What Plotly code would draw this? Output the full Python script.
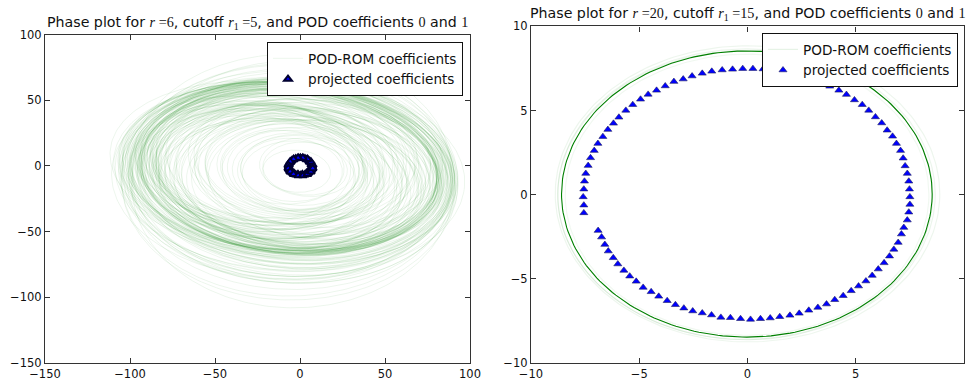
import numpy as np
import plotly.graph_objects as go

# ---------------- data ----------------
# Left panel (r=6): POD-ROM trajectory loops, given as centre, semi-axes and tilt (deg)
left_orbit_cx = [
    # dense band
    -5, -8, -2, -10, -6, -3, -12, -7, -4, -9, -1, -6, -11, -5, -8, -3, -7, -10, -4, -6,
    -9, -2, -13, -5, -8, -6, -3, -11, -7, -4,
    # mid-size loops
    -20, -15, 5, -25, 0, -10, 8, -18, -5, -22, 3, -12, -28, -8, 10, -16, -3, -20, 6, -14,
    -24, 2, -9, -17, -1, -26, 4, -11, -19, 7, -6, -21, -13, -4, -15,
    # inner loops
    -5, 0, -8, 3, -3, -10, 2, -6, -1, -12, 4, -4, -7, 1, -9, -2, 0, -5, -3, -6,
    # outer excursions
    -5, -6, -3, -5, -7, -4, -6, -2, -7, -5,
    # wandering loops with varying tilt
    -15, 0, -30, 5, -20, -8, -12, 2, -25, -4, -18, -6, -10, 3, -22, -14, -2, -16, -9, -27,
    1, -11, -19, -7, -3, -13, -24, -5, -17, 0,
    # wide loops just outside the band
    -6, -9, -3, -11, -5, -8, -2, -10, -4, -7, -12, -1, -6, -9, -3, -8, -5, -10, -2, -7,
    -4, -11, -6, -3, -8]
left_orbit_cy = [
    -3, -1, -5, -2, -4, 0, -3, -6, -2, -1, -4, -5, -2, -3, -6, -1, -4, -2, -5, -3,
    -1, -4, -3, -6, -2, -4, -3, -1, -5, -2,
    5, -10, -8, 2, -12, 6, -5, -3, 8, -8, -14, 3, 0, -6, -10, 7, -12, -4, 2, -9,
    5, -7, 4, -11, -2, -5, -13, 8, -1, -6, -9, 1, -4, 5, -8,
    -3, -5, 0, -2, -6, -1, -4, 2, -7, -3, -1, -5, -2, -6, 1, -4, -3, -1, -5, -2,
    -8, -12, -4, -10, -6, -14, -9, -5, -11, -1,
    0, -12, 4, -8, -6, 3, -15, -4, -2, 6, -10, -1, -7, -11, 1, -5, -9, 4, -13, -3,
    -6, 2, -8, -14, -2, 5, -4, -10, -1, -7,
    -5, -8, -3, -10, -6, -2, -9, -4, -11, -7, -3, -6, -12, -1, -8, -5, -9, -2, -7, -10,
    -4, -6, -3, -8, -5]
left_orbit_a = [
    86, 90, 84, 93, 88, 82, 95, 87, 85, 91, 83, 89, 94, 86, 92, 84, 88, 96, 85, 90,
    93, 81, 97, 87, 89, 88, 84, 92, 86, 90,
    70, 65, 75, 60, 72, 78, 68, 62, 74, 66, 70, 80, 58, 76, 64, 71, 67, 73, 69, 77,
    61, 75, 79, 63, 72, 59, 68, 74, 66, 70, 76, 64, 71, 62, 78,
    30, 40, 48, 25, 52, 36, 45, 55, 33, 50, 28, 42, 58, 38, 47, 20, 35, 44, 53, 41,
    96, 99, 94, 97, 98, 95, 93, 92, 98, 94,
    80, 74, 68, 82, 77, 85, 72, 79, 66, 88, 76, 83, 71, 78, 70, 86, 73, 81, 75, 69,
    84, 67, 80, 76, 87, 74, 72, 82, 78, 85,
    94, 98, 92, 100, 96, 93, 99, 95, 97, 92, 101, 94, 98, 96, 93, 100, 95, 97, 92, 99,
    94, 98, 96, 93, 97]
left_orbit_b = [
    61, 63, 59, 64, 62, 58, 65, 61, 60, 63, 59, 62, 64, 61, 64, 59, 62, 66, 60, 63,
    64, 57, 66, 61, 62, 62, 59, 63, 61, 62,
    50, 46, 52, 44, 50, 54, 47, 45, 52, 47, 49, 55, 42, 53, 45, 50, 47, 51, 48, 54,
    44, 52, 55, 45, 50, 43, 48, 52, 47, 49, 53, 46, 50, 45, 54,
    24, 30, 36, 20, 38, 28, 33, 40, 26, 37, 22, 32, 42, 29, 35, 16, 27, 33, 39, 31,
    76, 90, 70, 84, 78, 94, 80, 72, 88, 86,
    52, 50, 48, 56, 53, 58, 50, 55, 47, 60, 52, 57, 49, 54, 48, 58, 51, 56, 52, 47,
    57, 46, 55, 52, 59, 51, 50, 56, 53, 58,
    66, 72, 64, 76, 68, 65, 74, 67, 78, 70, 66, 69, 77, 64, 72, 68, 75, 65, 71, 76,
    67, 73, 66, 70, 69]
left_orbit_tilt = [
    -8, -6, -10, -7, -9, -5, -8, -11, -7, -6, -10, -9, -7, -8, -10, -6, -9, -7, -8, -10,
    -6, -9, -7, -8, -10, -8, -9, -6, -11, -7,
    -7, -10, -5, -8, -12, -6, -7, -9, -4, -11, -7, -8, -6, -10, -5, -7, -9, -7, -11, -6,
    -8, -7, -5, -10, -7, -9, -6, -8, -7, -12, -7, -5, -9, -8, -7,
    -7, -8, -5, -10, -7, -6, -9, -7, -8, -5, -11, -7, -6, -9, -7, -8, -5, -7, -10, -7,
    -4, -2, -6, -3, -5, -1, -4, -7, -2, -5,
    -14, -4, -12, -5, -15, -3, -12, -6, -16, -4, -13, -2, -14, -6, -11, -4, -15, -5, -12, -3,
    -14, -6, -10, -4, -15, -4, -13, -7, -11, -3,
    -8, -6, -10, -5, -9, -7, -4, -11, -6, -8, -12, -5, -7, -9, -6, -10, -4, -8, -7, -5,
    -11, -6, -9, -8, -7]

# Left panel: projected coefficients (small ring near the origin)
left_proj_x = [7.2, 6.7, 5.1, 2.9, 0.2, -2.5, -4.7, -6.3, -6.8, -6.3, -4.7, -2.5, 0.2, 2.9, 5.1, 6.7,
               6.6, 5.6, 3.8, 1.4, -1.2, -3.6, -5.4, -6.4, -6.4, -5.4, -3.6, -1.2, 1.4, 3.8, 5.6, 6.6,
               7.5, 6.4, 4.4, 1.7, -1.1, -3.8, -5.8, -6.9, -6.9, -5.8, -3.8, -1.1, 1.7, 4.4, 6.4, 7.5]
left_proj_y = [-0.5, 2.0, 4.2, 5.6, 6.1, 5.6, 4.2, 2.0, -0.5, -3.0, -5.2, -6.6, -7.1, -6.6, -5.2, -3.0,
               0.9, 3.1, 4.9, 5.8, 5.8, 4.9, 3.1, 0.9, -1.5, -3.7, -5.5, -6.4, -6.4, -5.5, -3.7, -1.5,
               0.7, 3.2, 5.1, 6.1, 6.1, 5.1, 3.2, 0.7, -1.9, -4.4, -6.3, -7.3, -7.3, -6.3, -4.4, -1.9]

# Right panel (r=20): POD-ROM loops settle on a limit cycle
right_orbit_cx = [-0.03, -0.05, 0.00, -0.10, -0.02]
right_orbit_cy = [0.04, 0.02, 0.05, -0.02, 0.00]
right_orbit_a = [8.56, 8.72, 8.88, 8.66, 8.40]
right_orbit_b = [8.50, 8.64, 8.80, 8.58, 8.35]
right_orbit_alpha = [1.0, 0.08, 0.07, 0.08, 0.06]

# Right panel: projected coefficients
right_proj_x = [-6.90, -6.74, -6.59, -6.43, -6.20, -5.99, -5.71, -5.44, -5.14, -4.82, -4.45, -4.10,
                -3.71, -3.33, -2.94, -2.53, -2.09, -1.66, -1.23, -0.79, -0.32, 0.14, 0.60, 1.05,
                1.49, 1.96, 2.39, 2.83, 3.25, 3.65, 4.03, 4.42, 4.79, 5.13, 5.47, 5.76,
                6.04, 6.31, 6.56, 6.76, 6.96, 7.11, 7.22, 7.38, 7.45, 7.50, 7.50, 7.48,
                7.45, 7.38, 7.28, 7.19, 7.07, 6.88, 6.70, 6.45, 6.20, 5.91, 5.60, 5.30,
                4.94, 4.57, 4.22, 3.80, 3.40, 2.99, 2.55, 2.10, 1.65, 1.19, 0.72, 0.25,
                -0.22, -0.69, -1.17, -1.65, -2.09, -2.56, -2.97, -3.40, -3.80, -4.20, -4.59, -4.94,
                -5.30, -5.62, -5.94, -6.19, -6.45, -6.68, -6.91, -7.08, -7.25, -7.36, -7.47, -7.53,
                -7.56, -7.59, -7.56, -7.56]
right_proj_y = [-2.13, -2.52, -2.96, -3.35, -3.75, -4.12, -4.50, -4.84, -5.15, -5.51, -5.77, -6.04,
                -6.30, -6.54, -6.74, -6.91, -7.03, -7.15, -7.29, -7.31, -7.37, -7.41, -7.37, -7.33,
                -7.25, -7.17, -7.05, -6.87, -6.70, -6.50, -6.24, -6.00, -5.71, -5.43, -5.13, -4.80,
                -4.42, -4.05, -3.65, -3.25, -2.84, -2.34, -1.95, -1.51, -1.04, -0.58, -0.13, 0.33,
                0.80, 1.26, 1.71, 2.17, 2.62, 3.04, 3.47, 3.83, 4.26, 4.62, 5.01, 5.35,
                5.63, 5.95, 6.20, 6.44, 6.66, 6.85, 7.04, 7.20, 7.33, 7.42, 7.47, 7.49,
                7.49, 7.45, 7.41, 7.33, 7.21, 7.05, 6.87, 6.72, 6.46, 6.20, 5.96, 5.67,
                5.35, 5.01, 4.60, 4.24, 3.87, 3.45, 3.04, 2.62, 2.19, 1.73, 1.26, 0.80,
                0.33, -0.13, -0.62, -1.08]

left_ticks = [-150, -100, -50, 0, 50, 100]
right_ticks = [-10, -5, 0, 5, 10]

# ---------------- drawing ----------------
W, H = 971, 381
FONT = "DejaVu Sans"
SERIF = "Liberation Serif"
INK = "#111111"


def loop(cx, cy, a, b, tilt_deg=0.0, n=241):
    t = np.linspace(0.0, 2.0 * np.pi, n)
    th = np.deg2rad(tilt_deg)
    ex, ey = a * np.cos(t), b * np.sin(t)
    return cx + ex * np.cos(th) - ey * np.sin(th), cy + ex * np.sin(th) + ey * np.cos(th)


fig = go.Figure()

for i, (cx, cy, a, b, tl) in enumerate(zip(left_orbit_cx, left_orbit_cy, left_orbit_a,
                                            left_orbit_b, left_orbit_tilt)):
    x, y = loop(cx, cy, a, b, tl)
    fig.add_trace(go.Scatter(
        x=x, y=y, mode="lines", xaxis="x", yaxis="y",
        line=dict(color="rgba(0,128,0,0.11)", width=0.7),
        name="POD-ROM coefficients", legendgroup="pod_l", legend="legend",
        showlegend=(i == 0), hoverinfo="skip"))

fig.add_trace(go.Scatter(
    x=left_proj_x, y=left_proj_y, mode="markers", xaxis="x", yaxis="y",
    marker=dict(symbol="triangle-up", size=7, color="#0000ff",
                line=dict(color="#000030", width=2)),
    name="projected coefficients", legend="legend"))

for cx, cy, a, b, al in zip(right_orbit_cx, right_orbit_cy, right_orbit_a,
                            right_orbit_b, right_orbit_alpha):
    x, y = loop(cx, cy, a, b)
    fig.add_trace(go.Scatter(
        x=x, y=y, mode="lines", xaxis="x2", yaxis="y2",
        line=dict(color=f"rgba(0,128,0,{al})", width=1.1 if al == 1.0 else 1.2),
        name="POD-ROM coefficients", legendgroup="pod_r", legend="legend2",
        showlegend=False, hoverinfo="skip"))

# faint legend sample for the right panel
fig.add_trace(go.Scatter(
    x=[None], y=[None], mode="lines", xaxis="x2", yaxis="y2",
    line=dict(color="rgba(0,128,0,0.12)", width=1),
    name="POD-ROM coefficients", legendgroup="pod_r", legend="legend2"))

fig.add_trace(go.Scatter(
    x=right_proj_x, y=right_proj_y, mode="markers", xaxis="x2", yaxis="y2",
    marker=dict(symbol="triangle-up", size=7, color="#0000ff",
                line=dict(color="#202060", width=0.6)),
    name="projected coefficients", legend="legend2"))

axis_common = dict(
    showline=True, linecolor="#333333", linewidth=1.2, mirror="allticks",
    ticks="inside", ticklen=5, tickwidth=1, tickcolor="#333333",
    showgrid=False, zeroline=False, automargin=False,
    tickfont=dict(family=FONT, size=11.5, color=INK),
)

fig.update_layout(
    width=W, height=H, autosize=False,
    margin=dict(l=0, r=0, t=0, b=0),
    paper_bgcolor="white", plot_bgcolor="white",
    font=dict(family=FONT, color=INK),
    xaxis=dict(domain=[45 / W, 470 / W], range=[-150, 100], tickvals=left_ticks,
               anchor="y", ticklabelstandoff=0, **axis_common),
    yaxis=dict(domain=[18 / H, 1 - 34.6 / H], range=[-150, 100], tickvals=left_ticks,
               anchor="x", **axis_common),
    xaxis2=dict(domain=[531 / W, 964 / W], range=[-10, 10], tickvals=right_ticks,
                anchor="y2", ticklabelstandoff=0, **axis_common),
    yaxis2=dict(domain=[18 / H, 1 - 26.4 / H], range=[-10, 10], tickvals=right_ticks,
                anchor="x2", **axis_common),
    legend=dict(x=463 / W, xanchor="right", y=1 - 42 / H, yanchor="top",
                bgcolor="white", bordercolor=INK, borderwidth=1,
                font=dict(family=FONT, size=13.6, color=INK),
                tracegroupgap=0, itemsizing="trace"),
    legend2=dict(x=958 / W, xanchor="right", y=1 - 33 / H, yanchor="top",
                 bgcolor="white", bordercolor=INK, borderwidth=1,
                 font=dict(family=FONT, size=13.6, color=INK),
                 tracegroupgap=0, itemsizing="trace"),
    showlegend=True,
)


def title_text(r, r1):
    s = f'<span style="font-family:{SERIF}">'
    return (f"Phase plot for {s}<i>r</i> ={r}</span>, cutoff "
            f"{s}<i>r</i><sub>1</sub> ={r1}</span>, and POD coefficients "
            f"{s}0</span> and {s}1</span>")


fig.add_annotation(text=title_text(6, 5), xref="paper", yref="paper",
                   x=(45 + 470) / 2 / W, y=1 - 34 / H, xanchor="center", yanchor="bottom",
                   showarrow=False, font=dict(family=FONT, size=14.2, color=INK))
fig.add_annotation(text=title_text(20, 15), xref="paper", yref="paper",
                   x=(531 + 964) / 2 / W, y=1 - 25 / H, xanchor="center", yanchor="bottom",
                   showarrow=False, font=dict(family=FONT, size=14.2, color=INK))

fig.write_html("out.html")
